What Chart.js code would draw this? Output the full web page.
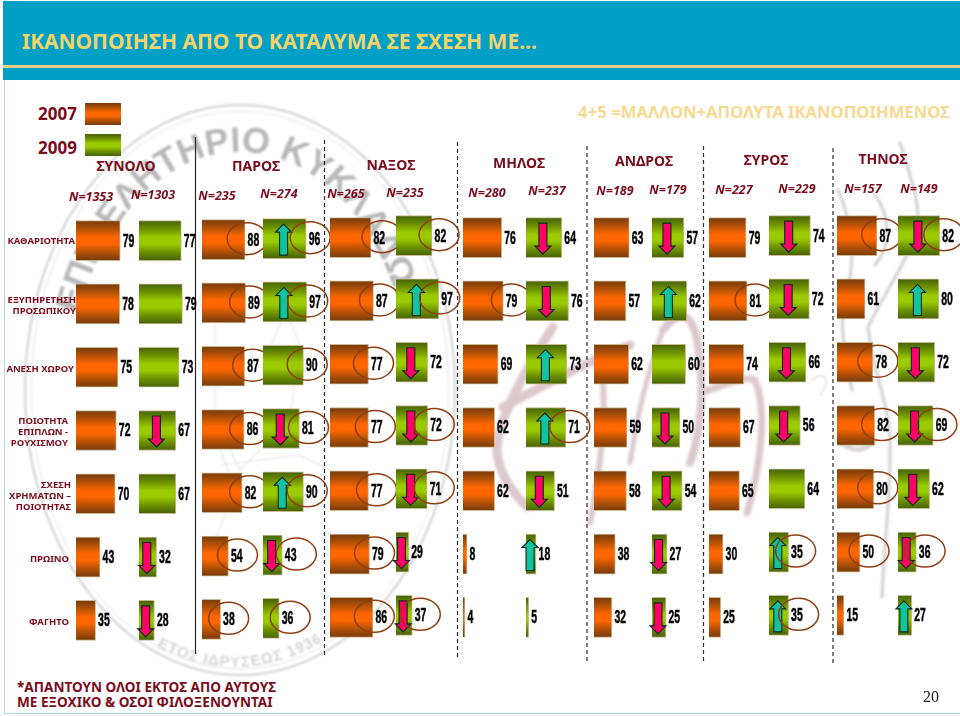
<!DOCTYPE html>
<html lang="el">
<head>
<meta charset="utf-8">
<title>Ικανοποίηση από το κατάλυμα</title>
<script src="https://cdn.jsdelivr.net/npm/chart.js@4/dist/chart.umd.min.js"></script>
<style>
  html, body { margin: 0; padding: 0; background: #fff; }
  #slide { position: relative; width: 960px; height: 716px; overflow: hidden; background: #fff; font-family: "Noto Sans", sans-serif; }
  #slide canvas { position: absolute; }
  #frame { position: absolute; left: 4px; top: 0; width: 956px; height: 714px; box-sizing: border-box; border-left: 1px solid #a9dbe2; border-bottom: 1px solid #a9dbe2; }
  #banner { position: absolute; left: 3px; top: 1px; width: 957px; height: 79px; background: #009fc6; }
  #banner i { position: absolute; left: 0; right: 0; top: 64px; height: 3px; background: #e0d084; }
  .txt { position: absolute; white-space: nowrap; color: #7a0c1e; font-weight: 700; }
  .txt.c { transform: translate(-50%, -50%); text-align: center; }
  .txt.r { transform: translate(-100%, -50%); text-align: right; }
  .swatch { position: absolute; left: 85px; width: 36px; height: 22px; }
  #water { position: absolute; left: 0; top: 0; }
</style>
</head>
<body>
<div id="slide">
  <svg id="water" width="960" height="716" viewBox="0 0 960 716">
    <defs>
      <filter id="b1"><feGaussianBlur stdDeviation="0.8"/></filter>
      <filter id="b2"><feGaussianBlur stdDeviation="1.6"/></filter>
      <path id="arcTop" d="M 70 390 A 170 238 0 0 1 410 390"/>
      <path id="arcBot" d="M 160 648 Q 240 688 320 643"/>
    </defs>
    <g filter="url(#b1)" fill="none" stroke="#d8d8d8">
      <ellipse cx="240" cy="390" rx="215" ry="285" stroke-width="2.5"/>
      <ellipse cx="240" cy="390" rx="209" ry="279" stroke-width="1" stroke="#e4e4e4"/>
      <path d="M 215 300 L 275 285 L 300 345 L 290 420 L 240 470 L 215 420 Z" stroke-width="1.2" stroke="#e4e4e4"/>
      <path d="M 255 300 L 282 320 L 265 360 M 220 465 L 300 455 L 340 475 M 210 420 L 235 490 L 215 540" stroke-width="1.2" stroke="#e4e4e4"/>
    </g>
    <g filter="url(#b1)" font-family="Liberation Sans, sans-serif" font-weight="700" fill="#b8b8b8">
      <text font-size="36" text-anchor="middle"><textPath href="#arcTop" startOffset="50%">ΕΠΙΜΕΛΗΤΗΡΙΟ ΚΥΚΛΑΔΩΝ</textPath></text>
      <text font-size="15" letter-spacing="1" text-anchor="middle" fill="#d4d4d4"><textPath href="#arcBot" startOffset="50%">ΕΤΟΣ ΙΔΡΥΣΕΩΣ 1936</textPath></text>
    </g>
    <g filter="url(#b2)" fill="none" stroke="#dcc8cc" stroke-width="9" stroke-linecap="round" stroke-linejoin="round">
      <path d="M 553 327 C 525 370 498 420 497 450 C 498 475 515 495 527 507"/>
      <path d="M 503 407 C 545 385 590 360 630 345"/>
      <path d="M 603 383 C 606 430 598 480 590 523" stroke-width="6"/>
      <path d="M 663 330 C 675 315 690 305 697 340 C 705 380 702 430 690 463" stroke-width="8"/>
      <path d="M 663 330 C 650 365 638 410 630 463" stroke-width="5"/>
      <path d="M 703 392 C 725 385 745 375 755 380 C 768 410 760 470 747 513" stroke-width="7"/>
    </g>
    <g filter="url(#b1)" fill="none" stroke="#d9d5d8" stroke-width="3.5" stroke-linecap="round" stroke-linejoin="round">
      <path d="M 900 143 C 912 180 922 210 916 230 C 908 262 880 300 868 327 C 872 370 892 410 890 450 C 890 500 884 550 882 597"/>
      <path d="M 838 190 C 850 215 856 260 848 285 C 842 310 838 325 852 390"/>
      <path d="M 875 195 C 890 215 892 245 875 265"/>
      <path d="M 838 440 C 850 450 862 455 875 440" stroke-width="5"/>
      <path d="M 812 380 C 825 370 832 380 820 395" stroke-width="2" stroke="#e4e4e4"/>
    </g>
  </svg>
  <div id="frame"></div>
  <div id="banner"><i></i></div>
  <svg id="lines" width="960" height="716" style="position:absolute;left:0;top:0"></svg>
</div>
<script>
// γραμμές πίνακα
const categories = ["ΚΑΘΑΡΙΟΤΗΤΑ", "ΕΞΥΠΗΡΕΤΗΣΗ ΠΡΟΣΩΠΙΚΟΥ", "ΑΝΕΣΗ ΧΩΡΟΥ", "ΠΟΙΟΤΗΤΑ ΕΠΙΠΛΩΝ - ΡΟΥΧΙΣΜΟΥ", "ΣΧΕΣΗ ΧΡΗΜΑΤΩΝ – ΠΟΙΟΤΗΤΑΣ", "ΠΡΩΙΝΟ", "ΦΑΓΗΤΟ"];
const islands = ["ΣΥΝΟΛΟ", "ΠΑΡΟΣ", "ΝΑΞΟΣ", "ΜΗΛΟΣ", "ΑΝΔΡΟΣ", "ΣΥΡΟΣ", "ΤΗΝΟΣ"];
const years = ["2007", "2009"];
const sampleSizes = [1353, 1303, 235, 274, 265, 235, 280, 237, 189, 179, 227, 229, 157, 149];

// τιμές (%)
const synolo2007 = [79, 78, 75, 72, 70, 43, 35];
const synolo2009 = [77, 79, 73, 67, 67, 32, 28];
const paros2007 = [88, 89, 87, 86, 82, 54, 38];
const paros2009 = [96, 97, 90, 81, 90, 43, 36];
const naxos2007 = [82, 87, 77, 77, 77, 79, 86];
const naxos2009 = [82, 97, 72, 72, 71, 29, 37];
const milos2007 = [76, 79, 69, 62, 62, 8, 4];
const milos2009 = [64, 76, 73, 71, 51, 18, 5];
const andros2007 = [63, 57, 62, 59, 58, 38, 32];
const andros2009 = [57, 62, 60, 50, 54, 27, 25];
const syros2007 = [79, 81, 74, 67, 65, 30, 25];
const syros2009 = [74, 72, 66, 56, 64, 35, 35];
const tinos2007 = [87, 61, 78, 82, 80, 50, 15];
const tinos2009 = [82, 80, 72, 69, 62, 36, 27];

// βέλη: 1 άνοδος, -1 πτώση, 0 τίποτα
const synoloArrows = [0, 0, 0, -1, 0, -1, -1];
const parosArrows = [1, 1, 0, -1, 1, -1, 0];
const naxosArrows = [0, 1, -1, -1, -1, -1, -1];
const milosArrows = [-1, -1, 1, 1, -1, 1, 0];
const androsArrows = [-1, 1, 0, -1, -1, -1, -1];
const syrosArrows = [-1, -1, -1, -1, 0, 1, 1];
const tinosArrows = [-1, 1, -1, -1, -1, -1, 1];

// κύκλοι γύρω από τις τιμές που ξεχωρίζουν
const parosCircles2007 = [1, 1, 1, 1, 1, 1, 1];
const parosCircles2009 = [1, 1, 1, 1, 1, 1, 1];
const naxosCircles2007 = [1, 1, 1, 1, 1, 1, 1];
const naxosCircles2009 = [1, 1, 0, 1, 1, 0, 1];
const milosCircles2007 = [0, 1, 0, 0, 0, 0, 0];
const milosCircles2009 = [0, 0, 0, 1, 0, 0, 0];
const syrosCircles2007 = [0, 1, 0, 0, 0, 0, 0];
const syrosCircles2009 = [0, 0, 0, 0, 0, 1, 1];
const tinosCircles2007 = [1, 0, 1, 1, 1, 1, 0];
const tinosCircles2009 = [1, 0, 0, 1, 0, 1, 0];
const noMarks = [0, 0, 0, 0, 0, 0, 0];

const columns = [
  { values: synolo2007, arrows: noMarks, circles: noMarks, left: 76, unit: 0.565, dy: 0, shift: noMarks },
  { values: synolo2009, arrows: synoloArrows, circles: noMarks, left: 139, unit: 0.553, dy: 0, shift: noMarks },
  { values: paros2007, arrows: noMarks, circles: parosCircles2007, left: 202, unit: 0.487, dy: -0.5, shift: [2, 4, 8, 5.6, 7.5, 9, 8] },
  { values: paros2009, arrows: parosArrows, circles: parosCircles2009, left: 262.5, unit: 0.445, dy: -1.8, shift: [4, 1, 3.7, 9, 3.7, 14, 11] },
  { values: naxos2007, arrows: noMarks, circles: naxosCircles2007, left: 330, unit: 0.496, dy: -3, shift: [11, 6, 5, 6.8, 8, 5, 1.3] },
  { values: naxos2009, arrows: naxosArrows, circles: naxosCircles2009, left: 396, unit: 0.44, dy: -4.5, shift: [7, 1, 0, 6.6, 7, 0, 8] },
  { values: milos2007, arrows: noMarks, circles: milosCircles2007, left: 463, unit: 0.51, dy: -3, shift: [0, 8, 0, 0, 0, 0, 0] },
  { values: milos2009, arrows: milosArrows, circles: milosCircles2009, left: 526, unit: 0.555, dy: -3, shift: [0, 0, 0, 4, 0, 0, 0] },
  { values: andros2007, arrows: noMarks, circles: noMarks, left: 594.3, unit: 0.555, dy: -3, shift: noMarks },
  { values: andros2009, arrows: androsArrows, circles: noMarks, left: 651.7, unit: 0.555, dy: -3, shift: noMarks },
  { values: syros2007, arrows: noMarks, circles: syrosCircles2007, left: 708.7, unit: 0.472, dy: -3, shift: [0, 8, 0, 0, 0, 0, 0] },
  { values: syros2009, arrows: syrosArrows, circles: syrosCircles2009, left: 769.3, unit: 0.556, dy: -4.5, shift: [0, 0, 0, 0, 0, 7, 10] },
  { values: tinos2007, arrows: noMarks, circles: tinosCircles2007, left: 837.3, unit: 0.455, dy: -4.7, shift: [4.7, 0, 5, 7, 4, 9, 0] },
  { values: tinos2009, arrows: tinosArrows, circles: tinosCircles2009, left: 898.3, unit: 0.507, dy: -4.5, shift: [4, 0, 0, 3.7, 0, 8.7, 0] }
];

const ROW_STEP = 63.3, FIRST_ROW = 240.6, PAD = 8, EXTRA = 76;
const colors = {
  "2007": ["#763a0c", "#b65207", "#ff6600"],
  "2009": ["#45620a", "#6f9300", "#9acb00"]
};

function bandGradient(ctx, top, bottom, c) {
  const g = ctx.createLinearGradient(0, top, 0, bottom);
  g.addColorStop(0, c[0]);
  g.addColorStop(0.22, c[1]);
  g.addColorStop(0.42, c[2]);
  g.addColorStop(0.58, c[2]);
  g.addColorStop(0.78, c[1]);
  g.addColorStop(1, c[0]);
  return g;
}

function drawArrow(ctx, x, y, dir) {
  const h = 15.5, head = 8, shaft = 4, neck = 8;
  ctx.save();
  ctx.translate(x, y);
  ctx.scale(1, dir > 0 ? 1 : -1);
  ctx.beginPath();
  ctx.moveTo(0, -h);
  ctx.lineTo(head, -h + neck);
  ctx.lineTo(shaft, -h + neck);
  ctx.lineTo(shaft, h);
  ctx.lineTo(-shaft, h);
  ctx.lineTo(-shaft, -h + neck);
  ctx.lineTo(-head, -h + neck);
  ctx.closePath();
  ctx.fillStyle = dir > 0 ? "#12c3a0" : "#ff0066";
  ctx.strokeStyle = "#0a2a20";
  ctx.lineWidth = 1.1;
  ctx.fill();
  ctx.stroke();
  ctx.restore();
}

// βέλη, κύκλοι και τιμή δίπλα σε κάθε μπάρα
const cellMarks = {
  id: "cellMarks",
  afterDatasetsDraw(chart) {
    const col = chart.config.options.plugins.cellMarks;
    const ctx = chart.ctx;
    chart.getDatasetMeta(0).data.forEach((bar, i) => {
      if (col.arrows[i]) drawArrow(ctx, (bar.x + bar.base) / 2 - 1, bar.y + 1, col.arrows[i]);
      if (col.circles[i]) {
        ctx.beginPath();
        ctx.ellipse(bar.x + col.shift[i], bar.y - 1, 20, 16, 0, 0, Math.PI * 2);
        ctx.strokeStyle = "#8f3f12";
        ctx.lineWidth = 1.5;
        ctx.stroke();
      }
      ctx.save();
      ctx.translate(bar.x + 2.5, bar.y + 1);
      ctx.scale(0.58, 1);
      ctx.font = "bold 18px 'Liberation Sans', sans-serif";
      ctx.textAlign = "left";
      ctx.textBaseline = "middle";
      ctx.fillStyle = "#000";
      ctx.strokeStyle = "#000";
      ctx.lineWidth = 0.5;
      ctx.fillText(col.values[i], 0, 0);
      ctx.strokeText(col.values[i], 0, 0);
      ctx.restore();
    });
  }
};

const slide = document.getElementById("slide");

columns.forEach((col, n) => {
  const year = years[n % 2];
  const canvas = document.createElement("canvas");
  canvas.width = Math.round(100 * col.unit) + PAD + EXTRA;
  canvas.height = Math.round(ROW_STEP * categories.length);
  canvas.style.left = (col.left - PAD) + "px";
  canvas.style.top = (FIRST_ROW - ROW_STEP / 2 + col.dy) + "px";
  slide.appendChild(canvas);
  new Chart(canvas, {
    type: "bar",
    data: {
      labels: categories,
      datasets: [{
        label: islands[Math.floor(n / 2)] + " " + year,
        data: col.values,
        barThickness: 40,
        borderWidth: 1,
        borderColor: "#c9b98c",
        backgroundColor(c) {
          const chart = c.chart;
          if (!chart.chartArea) return colors[year][2];
          const y = chart.scales.y.getPixelForValue(c.dataIndex);
          return bandGradient(chart.ctx, y - 20, y + 20, colors[year]);
        }
      }]
    },
    options: {
      indexAxis: "y",
      responsive: false,
      animation: false,
      layout: { padding: { left: PAD, right: EXTRA, top: 0, bottom: 0 } },
      scales: {
        x: { type: "linear", min: 0, max: 100, display: false },
        y: { type: "category", display: false }
      },
      plugins: { legend: { display: false }, tooltip: { enabled: false }, cellMarks: col }
    },
    plugins: [cellMarks]
  });
});

// κείμενα
function addText(str, x, y, cls, style) {
  const d = document.createElement("div");
  d.className = "txt " + cls;
  d.style.left = x + "px";
  d.style.top = y + "px";
  d.style.cssText += style || "";
  d.innerHTML = str;
  slide.appendChild(d);
}

addText("ΙΚΑΝΟΠΟΙΗΣΗ ΑΠΟ ΤΟ ΚΑΤΑΛΥΜΑ ΣΕ ΣΧΕΣΗ ΜΕ...", 22, 27, "", "font-size:21px;color:#f2d36a;");
addText("4+5 =ΜΑΛΛΟΝ+ΑΠΟΛΥΤΑ ΙΚΑΝΟΠΟΙΗΜΕΝΟΣ", 950, 111, "r", "font-size:16.7px;color:#f6d98f;");
addText(years[0], 77, 113, "r", "font-size:17px;");
addText(years[1], 77, 147, "r", "font-size:17px;");

const islandX = [126, 256, 391, 519, 644, 766, 883];
const islandY = [165, 165, 164, 162, 160, 159, 158];
islands.forEach((name, i) => addText(name, islandX[i], islandY[i], "c", "font-size:14px;"));

const sizeX = [91, 153, 217, 279, 346, 405, 487, 547, 615, 668, 734, 797, 863, 919];
const sizeY = [196, 194, 195, 193, 193, 192, 192, 190, 190, 189, 189, 188, 188, 188];
sampleSizes.forEach((n, i) => addText("N=" + n, sizeX[i], sizeY[i], "c", "font-size:12.5px;font-style:italic;"));

const labelLines = [["ΚΑΘΑΡΙΟΤΗΤΑ"], ["ΕΞΥΠΗΡΕΤΗΣΗ", "ΠΡΟΣΩΠΙΚΟΥ"], ["ΑΝΕΣΗ ΧΩΡΟΥ"], ["ΠΟΙΟΤΗΤΑ", "ΕΠΙΠΛΩΝ -", "ΡΟΥΧΙΣΜΟΥ"], ["ΣΧΕΣΗ", "ΧΡΗΜΑΤΩΝ –", "ΠΟΙΟΤΗΤΑΣ"], ["ΠΡΩΙΝΟ"], ["ΦΑΓΗΤΟ"]];
const labelX = [75, 76, 74, 68, 71, 69, 69];
const labelY = [240, 305, 368, 431, 495, 558, 621];
labelLines.forEach((lines, i) => addText(lines.join("<br>"), labelX[i], labelY[i], "r", "font-size:9.5px;line-height:11px;"));

addText("*ΑΠΑΝΤΟΥΝ ΟΛΟΙ ΕΚΤΟΣ ΑΠΟ ΑΥΤΟΥΣ<br>ΜΕ ΕΞΟΧΙΚΟ &amp; ΟΣΟΙ ΦΙΛΟΞΕΝΟΥΝΤΑΙ", 17, 679, "", "font-size:13.6px;line-height:15px;");
addText("20", 923, 688, "", "font-size:16px;font-weight:400;color:#222;font-family:'Liberation Serif',serif;");

// δείγμα υπομνήματος
[[103, "2007"], [134, "2009"]].forEach(([top, y]) => {
  const s = document.createElement("div");
  s.className = "swatch";
  s.style.top = top + "px";
  const c = colors[y];
  s.style.background = `linear-gradient(${c[0]},${c[1]} 22%,${c[2]} 42%,${c[2]} 58%,${c[1]} 78%,${c[0]})`;
  slide.appendChild(s);
});

// διαχωριστικές γραμμές
const dividers = [[195.5, 137, 654, false], [324.5, 140, 657, true], [457.5, 142, 658, true], [587, 146, 663, true], [703.5, 146, 663, true], [833, 148, 665, true]];
document.getElementById("lines").innerHTML = dividers.map(d =>
  `<line x1="${d[0]}" x2="${d[0]}" y1="${d[1]}" y2="${d[2]}" stroke="#2a2a2a" stroke-width="1.2"${d[3] ? ' stroke-dasharray="4 3"' : ""}/>`
).join("");
</script>
</body>
</html>
